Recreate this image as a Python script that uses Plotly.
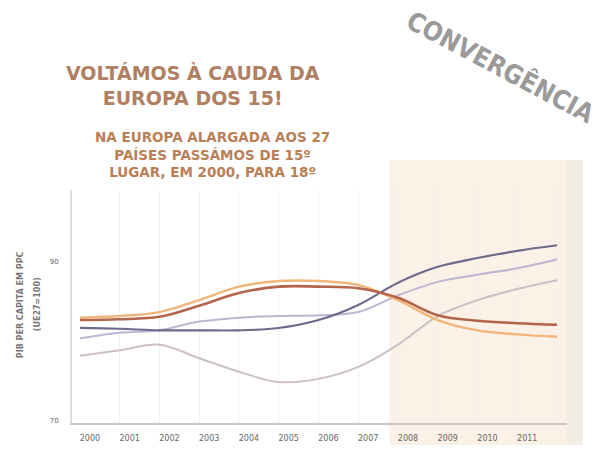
import plotly.graph_objects as go

# ---- data (values on a PIB per capita index scale) ----
years = list(range(2000, 2013))
label_years = list(range(2000, 2012))
tick_labels = [str(y) for y in label_years]

serie_a = [82.7, 82.8, 83.1, 84.5, 86.1, 86.9, 86.9, 86.7, 85.5, 83.3, 82.6, 82.3, 82.1]
serie_b = [83.0, 83.2, 83.7, 85.2, 86.9, 87.6, 87.6, 87.1, 85.2, 82.7, 81.4, 80.9, 80.6]
serie_c = [81.7, 81.6, 81.4, 81.4, 81.4, 81.7, 82.7, 84.6, 87.4, 89.4, 90.5, 91.4, 92.1]
serie_d = [78.2, 78.9, 79.6, 77.9, 76.2, 74.9, 75.3, 76.8, 79.6, 83.2, 85.2, 86.6, 87.7]
serie_e = [80.4, 81.1, 81.4, 82.5, 83.0, 83.2, 83.3, 83.7, 85.8, 87.5, 88.4, 89.2, 90.3]

y_ticks = [70, 90]
y_tick_labels = ["70", "90"]

series = [
    ("D", serie_d, "#cdbfc6", 2),
    ("E", serie_e, "#bdb6d2", 2),
    ("C", serie_c, "#6f6a8c", 2.2),
    ("B", serie_b, "#f2b57a", 2.4),
    ("A", serie_a, "#b4644a", 2.6),
]

fig = go.Figure()
for name, vals, color, width in series:
    fig.add_trace(go.Scatter(
        x=years, y=vals, mode="lines", name=name,
        line=dict(color=color, width=width, shape="spline", smoothing=1.0),
        hoverinfo="skip",
    ))

fig.update_layout(
    width=611, height=461,
    margin=dict(l=72, r=44, t=190, b=38),
    paper_bgcolor="white", plot_bgcolor="rgba(0,0,0,0)",
    showlegend=False,
    font=dict(family="DejaVu Sans", color="#666"),
    xaxis=dict(
        range=[1999.8, 2012.25],
        tickvals=[y + 0.25 for y in label_years], ticktext=tick_labels,
        tickfont=dict(size=8, color="#666"),
        ticks="", ticklabelstandoff=6,
        showline=True, linecolor="#c8c8c8", linewidth=2,
        showgrid=False, zeroline=False,
        minor=dict(tickvals=years[1:], showgrid=True, gridcolor="#f1f1f1", gridwidth=1),
    ),
    yaxis=dict(
        range=[69.75, 99.05],
        tickvals=y_ticks, ticktext=y_tick_labels,
        tickfont=dict(size=7, color="#666"),
        ticks="", ticklabelstandoff=10,
        showline=True, linecolor="#dcdcdc", linewidth=2,
        showgrid=False, zeroline=False,
    ),
    shapes=[
        dict(type="rect", xref="paper", yref="paper", x0=0.642, x1=1.032, y0=-0.094, y1=1.129,
             fillcolor="#fcf0e3", line=dict(width=0), layer="below", opacity=0.9),
        dict(type="rect", xref="paper", yref="paper", x0=1.0, x1=1.032, y0=-0.094, y1=1.129,
             fillcolor="#f3eee4", line=dict(width=0), layer="below"),
    ],
    annotations=[
        dict(text="<b>VOLTÁMOS À CAUDA DA<br>EUROPA DOS 15!</b>", xref="paper", yref="paper",
             x=0.244, y=1.447, xanchor="center", yanchor="middle", showarrow=False,
             font=dict(family="DejaVu Sans", size=19, color="#b08062"), align="center"),
        dict(text="<b>NA EUROPA ALARGADA AOS 27<br>PAÍSES PASSÁMOS DE 15º<br>LUGAR, EM 2000, PARA 18º</b>",
             xref="paper", yref="paper", x=0.283, y=1.153, xanchor="center", yanchor="middle",
             showarrow=False, font=dict(family="DejaVu Sans", size=13.5, color="#b98058"), align="center"),
        dict(text="<b>CONVERGÊNCIA</b>", xref="paper", yref="paper", x=0.865, y=1.53,
             xanchor="center", yanchor="middle", showarrow=False, textangle=28,
             font=dict(family="DejaVu Sans Condensed", size=26, color="#9a9a9a")),
        dict(text="<b>PIB PER CAPITA EM PPC</b>", xref="paper", yref="paper", x=-0.105, y=0.506,
             xanchor="center", yanchor="middle", showarrow=False, textangle=-90,
             font=dict(size=8, color="#777")),
        dict(text="<b>(UE27=100)</b>", xref="paper", yref="paper", x=-0.0707, y=0.51,
             xanchor="center", yanchor="middle", showarrow=False, textangle=-90,
             font=dict(size=8, color="#777")),
    ],
)

fig.write_html("out.html")
